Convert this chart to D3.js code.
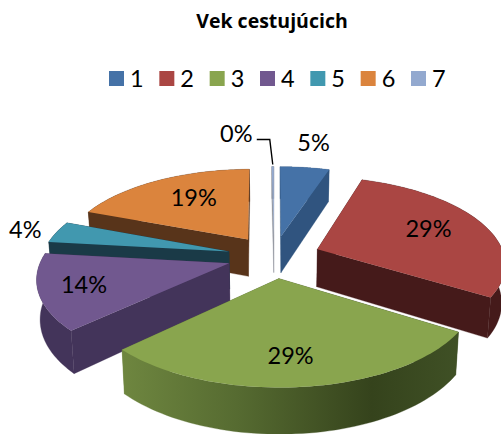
<!DOCTYPE html>
<html><head><meta charset="utf-8">
<script src="https://cdn.jsdelivr.net/npm/d3@7"></script>
<style>html,body{margin:0;background:#fff}svg{display:block}text{font-family:Lato,"Open Sans",sans-serif;fill:#000}</style>
</head><body><svg id="c" width="501" height="434"></svg>
<script>
const title = "Vek cestujúcich";
const categories = ["1","2","3","4","5","6","7"];
const values = [5, 29, 29, 14, 4, 19, 0.2];
const topColors = ["#4572A7","#AA4643","#89A54E","#71588F","#4198AF","#DB843D","#93A9CF"];
const wallColors = ["#30547F","#451A1A","#3F5025","#43345A","#1A3A47","#58341A","#8A8F98"];

const W = 501, H = 434;
const cx = 274, cy = 256.5, rx = 187, ry = 85.4, persp = 0.149, explode = 0.25, depth = 38;
const drawOrder = [6,0,5,4,3,1,2];
const labelRadius = [1.44,0.67,0.735,0.77,1.19,0.6,1.6];
const labelNudge = [[0,0],[0,-3],[-5,0],[0,-2],[0,0],[2,-6],[-36,0]];

const svg = d3.select("#c");
const arcs = d3.pie().sort(null).value(d => d)(values);

function project(d, r, a, z) {
  const b = (d.startAngle + d.endAngle) / 2;
  const U = explode * Math.sin(b) + r * Math.sin(a);
  const V = explode * Math.cos(b) + r * Math.cos(a);
  const s = 1 / (1 + persp * V);
  return [cx + rx * U * s * (1 - 0.015 * z), cy - ry * V * s + depth * s * z];
}
const line = d3.line();
function rim(d, z) {
  const n = 60;
  return d3.range(n + 1).map(i => project(d, 1, d.startAngle + (d.endAngle - d.startAngle) * i / n, z));
}

const defs = svg.append("defs");
const grad = defs.append("linearGradient").attr("id","wallG").attr("gradientUnits","userSpaceOnUse")
  .attr("x1",119).attr("x2",456).attr("y1",0).attr("y2",0);
[[0,"#6F8740"],[0.35,"#566B31"],[0.75,"#35431C"],[1,"#3F5025"]].forEach(s =>
  grad.append("stop").attr("offset",s[0]).attr("stop-color",s[1]));

const g = svg.append("g");
drawOrder.forEach(i => {
  const d = arcs[i];
  const wall = i === 2 ? "url(#wallG)" : wallColors[i];
  const top = rim(d, 0), bottom = rim(d, 1);
  g.append("path").attr("d", line(top.concat(bottom.slice().reverse())) + "Z").attr("fill", wall).attr("stroke",wall).attr("stroke-width",0.3);
  const radial = [d.startAngle, d.endAngle].map(a => [
    project(d,0,a,0), project(d,1,a,0), project(d,1,a,1), project(d,0,a,1)
  ]).sort((p,q) => (p[1][1]) - (q[1][1]));
  radial.forEach(q => g.append("path").attr("d", line(q) + "Z").attr("fill", wall).attr("stroke",wall).attr("stroke-width",0.3));
  g.append("path").attr("d", line([project(d,0,d.startAngle,0)].concat(top)) + "Z").attr("fill", topColors[i]);
});

// leader for the smallest slice
const last = arcs[6];
const tip = project(last, 1, (last.startAngle + last.endAngle) / 2, 0);
svg.append("path").attr("fill","none").attr("stroke","#000").attr("stroke-width",1.4)
  .attr("d", line([[tip[0]-16, tip[1]-27],[tip[0]-3, tip[1]-27],[tip[0], tip[1]-2]]));

// data labels
arcs.forEach((d,i) => {
  const b = (d.startAngle + d.endAngle) / 2;
  const p = project(d, labelRadius[i], b, 0);
  svg.append("text").attr("x", p[0] + labelNudge[i][0]).attr("y", p[1] + labelNudge[i][1])
    .attr("text-anchor","middle").attr("dominant-baseline","central")
    .attr("font-size",23.5).text(Math.round(d.value) + "%");
});

// title
svg.append("text").attr("x",272).attr("y",28).attr("text-anchor","middle")
  .style("font-family","'Open Sans'").attr("font-size",19.5).attr("font-weight",700).text(title);

// legend
const lx = d3.scalePoint().domain(categories).range([109,411]);
const leg = svg.selectAll("g.l").data(categories).join("g").attr("class","l")
  .attr("transform", c => `translate(${lx(c)},71)`);
leg.append("rect").attr("width",15).attr("height",15).attr("fill",(c,i) => topColors[i]);
leg.append("text").attr("x",21).attr("y",15.5).attr("font-size",23.5).text(c => c);
</script></body></html>
